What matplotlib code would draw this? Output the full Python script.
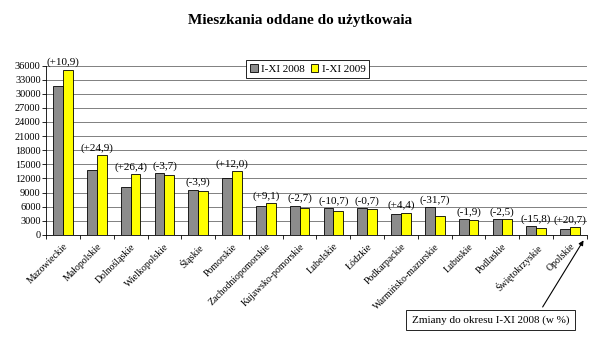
import numpy as np
import matplotlib
matplotlib.use("Agg")
import matplotlib.pyplot as plt

regions = ['Mazowieckie', 'Małopolskie', 'Dolnośląskie', 'Wielkopolskie', 'Śląskie',
           'Pomorskie', 'Zachodniopomorskie', 'Kujawsko-pomorskie', 'Lubelskie', 'Łódzkie',
           'Podkarpackie', 'Warmińsko-mazurskie', 'Lubuskie', 'Podlaskie', 'Świętokrzyskie',
           'Opolskie']
y2008 = [31700, 13800, 10100, 13100, 9600, 12100, 6200, 6200, 5700, 5700,
         4400, 5900, 3400, 3400, 1800, 1200]
y2009 = [35100, 17000, 12900, 12700, 9350, 13500, 6700, 5800, 5000, 5600,
         4700, 4000, 3250, 3300, 1550, 1600]
changes = ['(+10,9)', '(+24,9)', '(+26,4)', '(-3,7)', '(-3,9)', '(+12,0)', '(+9,1)', '(-2,7)',
           '(-10,7)', '(-0,7)', '(+4,4)', '(-31,7)', '(-1,9)', '(-2,5)', '(-15,8)', '(+20,7)']

plt.rcParams['font.family'] = ['Liberation Serif', 'DejaVu Serif']

fig = plt.figure(figsize=(6, 3.43), dpi=100)
ax = fig.add_axes([0.077, 0.315, 0.901, 0.494])

x = np.arange(len(regions))
w = 0.29
ax.bar(x - w / 2, y2008, w, color='#8c8c8c', edgecolor='black', linewidth=0.6,
       label='I-XI 2008', zorder=3)
ax.bar(x + w / 2, y2009, w, color='#ffff00', edgecolor='black', linewidth=0.6,
       label='I-XI 2009', zorder=3)

for i in range(len(regions)):
    top = max(y2008[i], y2009[i])
    ax.text(x[i], top + 500, changes[i], ha='center', va='bottom', fontsize=8)

ax.set_xlim(-0.5, len(regions) - 0.5)
ax.set_ylim(0, 36000)
ax.set_yticks(np.arange(0, 36001, 3000))
ax.tick_params(axis='y', labelsize=7.5, length=3, width=0.6, pad=1)
ax.yaxis.grid(True, color='#808080', linewidth=0.7, zorder=0)

ax.set_xticks(x)
ax.set_xticklabels(regions, rotation=45, ha='right', rotation_mode='anchor', fontsize=7)
ax.tick_params(axis='x', length=0, pad=5)
ax.set_xticks(np.arange(-0.5, len(regions), 1), minor=True)
ax.tick_params(axis='x', which='minor', length=3, width=0.6)

ax.spines['top'].set_visible(False)
ax.spines['right'].set_visible(False)
ax.spines['left'].set_linewidth(0.6)
ax.spines['bottom'].set_linewidth(0.6)

leg = ax.legend(loc='upper center', bbox_to_anchor=(0.484, 1.065), ncol=2, fontsize=8,
                frameon=True, fancybox=False, edgecolor='black', handlelength=0.7,
                handleheight=0.7, columnspacing=0.5, handletextpad=0.3, borderpad=0.35)
leg.get_frame().set_linewidth(0.6)
leg.get_frame().set_alpha(1)

fig.text(0.5, 0.94, 'Mieszkania oddane do użytkowaia', ha='center', va='center',
         fontsize=11, fontweight='bold')

ax.annotate('Zmiany do okresu I-XI 2008 (w %)', xy=(585 / 600, 1 - 238 / 343),
            xycoords='figure fraction', xytext=(0.686, 1 - 320 / 343),
            textcoords='figure fraction', fontsize=8, va='center', ha='left',
            bbox=dict(boxstyle='square,pad=0.5', fc='white', ec='black', lw=0.6),
            arrowprops=dict(arrowstyle='-|>', color='black', lw=0.8,
                            relpos=(0.8, 1.0), mutation_scale=7))

fig.savefig('out.png', dpi=100)
